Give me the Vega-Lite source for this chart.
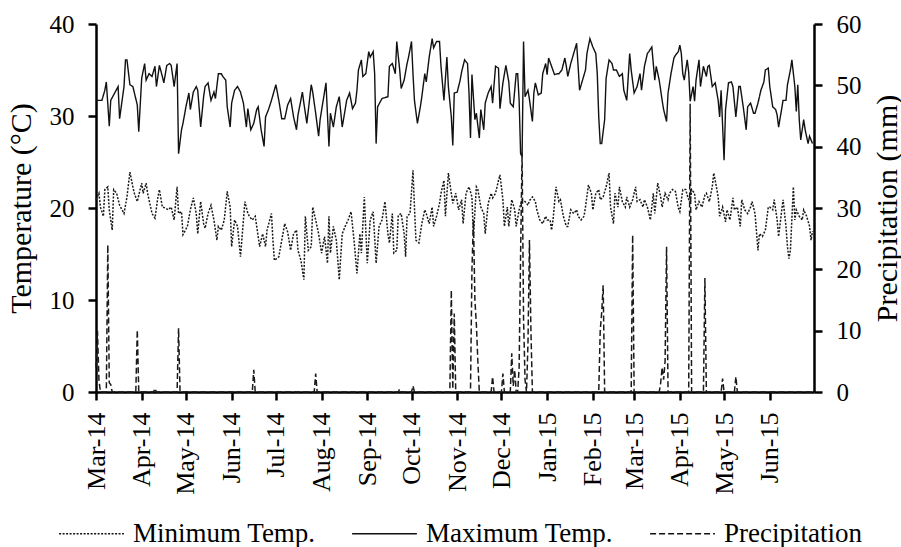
{
  "$schema": "https://vega.github.io/schema/vega-lite/v6.json",
  "autosize": "none",
  "width": 718,
  "height": 368,
  "padding": {"left": 96, "top": 24, "right": 87, "bottom": 155},
  "background": "white",
  "config": {
    "font": "Liberation Serif",
    "view": {"stroke": null},
    "axis": {
      "domainColor": "#000", "domainWidth": 2.5, "tickColor": "#000", "tickWidth": 2.5, "tickSize": 8,
      "labelFont": "Liberation Serif", "labelFontSize": 25, "labelColor": "#000",
      "titleFont": "Liberation Serif", "titleFontSize": 30, "titleFontWeight": "normal", "titleColor": "#000",
      "grid": false, "labelPadding": 14
    },
    "legend": {
      "labelFont": "Liberation Serif", "labelFontSize": 27, "labelColor": "#000", "labelLimit": 400
    }
  },
  "datasets": {
    "tmax": [
      {"d":"2014/03/01","v":31.7},{"d":"2014/03/05","v":31.7},{"d":"2014/03/07","v":32.8},{"d":"2014/03/08","v":33.7},{"d":"2014/03/10","v":28.9},{"d":"2014/03/11","v":31.7},{"d":"2014/03/14","v":32.6},{"d":"2014/03/16","v":33.2},{"d":"2014/03/17","v":29.7},{"d":"2014/03/20","v":33.2},{"d":"2014/03/21","v":36.1},{"d":"2014/03/22","v":36.1},{"d":"2014/03/24","v":33.4},{"d":"2014/03/26","v":33.2},{"d":"2014/03/29","v":31.2},{"d":"2014/03/30","v":28.3},
      {"d":"2014/04/01","v":34.1},{"d":"2014/04/03","v":35.7},{"d":"2014/04/04","v":33.9},{"d":"2014/04/06","v":34.6},{"d":"2014/04/08","v":34.3},{"d":"2014/04/10","v":35.4},{"d":"2014/04/11","v":33.2},{"d":"2014/04/13","v":35.5},{"d":"2014/04/15","v":34.3},{"d":"2014/04/16","v":33.6},{"d":"2014/04/18","v":35.5},{"d":"2014/04/20","v":35.7},{"d":"2014/04/21","v":35.5},{"d":"2014/04/23","v":33.2},{"d":"2014/04/25","v":35.7},{"d":"2014/04/26","v":25.9},{"d":"2014/04/28","v":28.5},{"d":"2014/04/29","v":29.2},
      {"d":"2014/05/01","v":31.0},{"d":"2014/05/03","v":32.5},{"d":"2014/05/04","v":30.7},{"d":"2014/05/06","v":32.6},{"d":"2014/05/08","v":33.2},{"d":"2014/05/09","v":32.8},{"d":"2014/05/11","v":28.8},{"d":"2014/05/13","v":32.1},{"d":"2014/05/14","v":33.2},{"d":"2014/05/16","v":33.6},{"d":"2014/05/18","v":31.7},{"d":"2014/05/20","v":32.6},{"d":"2014/05/21","v":31.9},{"d":"2014/05/23","v":34.6},{"d":"2014/05/25","v":34.6},{"d":"2014/05/26","v":34.3},{"d":"2014/05/28","v":33.9},{"d":"2014/05/29","v":31.0},{"d":"2014/05/31","v":28.8},
      {"d":"2014/06/01","v":31.4},{"d":"2014/06/03","v":32.8},{"d":"2014/06/05","v":33.2},{"d":"2014/06/07","v":32.6},{"d":"2014/06/09","v":31.4},{"d":"2014/06/11","v":28.8},{"d":"2014/06/12","v":30.8},{"d":"2014/06/14","v":28.5},{"d":"2014/06/16","v":29.2},{"d":"2014/06/18","v":30.7},{"d":"2014/06/19","v":31.0},{"d":"2014/06/21","v":28.5},{"d":"2014/06/23","v":26.7},{"d":"2014/06/24","v":29.9},{"d":"2014/06/26","v":30.7},{"d":"2014/06/28","v":31.7},
      {"d":"2014/07/01","v":33.4},{"d":"2014/07/03","v":31.7},{"d":"2014/07/05","v":29.7},{"d":"2014/07/07","v":29.7},{"d":"2014/07/09","v":31.2},{"d":"2014/07/11","v":31.9},{"d":"2014/07/13","v":29.9},{"d":"2014/07/15","v":28.5},{"d":"2014/07/16","v":30.1},{"d":"2014/07/19","v":32.6},{"d":"2014/07/20","v":31.4},{"d":"2014/07/22","v":29.2},{"d":"2014/07/25","v":33.4},{"d":"2014/07/26","v":32.6},{"d":"2014/07/28","v":30.3},{"d":"2014/07/30","v":27.8},{"d":"2014/07/31","v":29.6},
      {"d":"2014/08/02","v":31.6},{"d":"2014/08/04","v":33.6},{"d":"2014/08/06","v":26.7},{"d":"2014/08/07","v":30.3},{"d":"2014/08/09","v":28.8},{"d":"2014/08/11","v":31.0},{"d":"2014/08/13","v":32.1},{"d":"2014/08/15","v":28.8},{"d":"2014/08/17","v":30.7},{"d":"2014/08/18","v":31.7},{"d":"2014/08/20","v":32.5},{"d":"2014/08/22","v":30.8},{"d":"2014/08/24","v":31.4},{"d":"2014/08/25","v":32.8},{"d":"2014/08/26","v":35.0},{"d":"2014/08/28","v":36.1},{"d":"2014/08/29","v":34.3},{"d":"2014/08/31","v":34.6},
      {"d":"2014/09/02","v":37.0},{"d":"2014/09/03","v":36.4},{"d":"2014/09/05","v":37.0},{"d":"2014/09/06","v":34.6},{"d":"2014/09/07","v":27.0},{"d":"2014/09/08","v":31.0},{"d":"2014/09/11","v":31.9},{"d":"2014/09/13","v":32.0},{"d":"2014/09/15","v":32.1},{"d":"2014/09/16","v":35.4},{"d":"2014/09/18","v":35.7},{"d":"2014/09/20","v":34.6},{"d":"2014/09/21","v":38.1},{"d":"2014/09/23","v":35.0},{"d":"2014/09/24","v":33.0},{"d":"2014/09/26","v":33.9},{"d":"2014/09/28","v":35.7},{"d":"2014/09/29","v":36.4},
      {"d":"2014/10/01","v":38.1},{"d":"2014/10/02","v":34.6},{"d":"2014/10/03","v":31.7},{"d":"2014/10/05","v":29.2},{"d":"2014/10/07","v":31.0},{"d":"2014/10/08","v":32.1},{"d":"2014/10/10","v":34.6},{"d":"2014/10/11","v":33.7},{"d":"2014/10/13","v":36.4},{"d":"2014/10/15","v":38.4},{"d":"2014/10/16","v":37.4},{"d":"2014/10/18","v":38.1},{"d":"2014/10/20","v":38.1},{"d":"2014/10/21","v":35.4},{"d":"2014/10/23","v":31.7},{"d":"2014/10/25","v":36.4},{"d":"2014/10/26","v":33.2},{"d":"2014/10/28","v":29.9},{"d":"2014/10/29","v":26.8},{"d":"2014/10/30","v":32.5},
      {"d":"2014/11/01","v":32.6},{"d":"2014/11/03","v":33.9},{"d":"2014/11/04","v":34.8},{"d":"2014/11/06","v":36.1},{"d":"2014/11/08","v":35.7},{"d":"2014/11/09","v":32.5},{"d":"2014/11/10","v":27.6},{"d":"2014/11/11","v":34.5},{"d":"2014/11/13","v":29.6},{"d":"2014/11/14","v":30.3},{"d":"2014/11/16","v":27.6},{"d":"2014/11/17","v":30.7},{"d":"2014/11/19","v":28.5},{"d":"2014/11/20","v":31.4},{"d":"2014/11/22","v":32.5},{"d":"2014/11/24","v":33.2},{"d":"2014/11/25","v":31.4},{"d":"2014/11/27","v":35.4},{"d":"2014/11/29","v":35.2},{"d":"2014/11/30","v":30.8},
      {"d":"2014/12/02","v":33.6},{"d":"2014/12/04","v":35.5},{"d":"2014/12/06","v":33.7},{"d":"2014/12/07","v":31.4},{"d":"2014/12/09","v":31.0},{"d":"2014/12/11","v":34.6},{"d":"2014/12/12","v":34.6},{"d":"2014/12/13","v":31.7},{"d":"2014/12/14","v":25.9},{"d":"2014/12/15","v":25.6},{"d":"2014/12/16","v":38.1},{"d":"2014/12/17","v":32.1},{"d":"2014/12/19","v":32.8},{"d":"2014/12/20","v":31.8},{"d":"2014/12/22","v":29.4},{"d":"2014/12/23","v":32.5},{"d":"2014/12/24","v":33.6},{"d":"2014/12/26","v":32.3},{"d":"2014/12/28","v":32.5},{"d":"2014/12/29","v":34.6},{"d":"2014/12/31","v":35.7},
      {"d":"2015/01/01","v":34.5},{"d":"2015/01/02","v":36.3},{"d":"2015/01/04","v":35.4},{"d":"2015/01/06","v":34.5},{"d":"2015/01/08","v":34.6},{"d":"2015/01/09","v":34.6},{"d":"2015/01/11","v":35.0},{"d":"2015/01/13","v":36.3},{"d":"2015/01/14","v":35.4},{"d":"2015/01/15","v":34.3},{"d":"2015/01/17","v":35.7},{"d":"2015/01/19","v":36.8},{"d":"2015/01/21","v":37.9},{"d":"2015/01/22","v":35.4},{"d":"2015/01/23","v":32.8},{"d":"2015/01/25","v":33.9},{"d":"2015/01/27","v":35.0},{"d":"2015/01/28","v":36.8},{"d":"2015/01/30","v":38.4},
      {"d":"2015/02/01","v":37.5},{"d":"2015/02/03","v":36.8},{"d":"2015/02/04","v":34.6},{"d":"2015/02/05","v":29.9},{"d":"2015/02/06","v":27.0},{"d":"2015/02/07","v":27.0},{"d":"2015/02/09","v":29.6},{"d":"2015/02/10","v":34.1},{"d":"2015/02/12","v":36.1},{"d":"2015/02/14","v":35.7},{"d":"2015/02/15","v":35.0},{"d":"2015/02/17","v":35.0},{"d":"2015/02/19","v":34.3},{"d":"2015/02/21","v":34.6},{"d":"2015/02/22","v":32.8},{"d":"2015/02/24","v":31.7},{"d":"2015/02/26","v":36.8},{"d":"2015/02/27","v":35.0},
      {"d":"2015/03/01","v":32.5},{"d":"2015/03/03","v":33.2},{"d":"2015/03/05","v":34.6},{"d":"2015/03/06","v":32.8},{"d":"2015/03/08","v":35.4},{"d":"2015/03/10","v":36.8},{"d":"2015/03/11","v":37.0},{"d":"2015/03/13","v":37.5},{"d":"2015/03/15","v":33.9},{"d":"2015/03/16","v":35.4},{"d":"2015/03/18","v":33.9},{"d":"2015/03/20","v":31.7},{"d":"2015/03/21","v":30.7},{"d":"2015/03/23","v":29.4},{"d":"2015/03/24","v":32.5},{"d":"2015/03/26","v":34.6},{"d":"2015/03/28","v":36.3},{"d":"2015/03/29","v":36.6},{"d":"2015/03/31","v":37.0},
      {"d":"2015/04/01","v":37.7},{"d":"2015/04/02","v":36.8},{"d":"2015/04/03","v":34.6},{"d":"2015/04/04","v":33.9},{"d":"2015/04/06","v":36.1},{"d":"2015/04/07","v":34.8},{"d":"2015/04/08","v":31.6},{"d":"2015/04/10","v":33.2},{"d":"2015/04/11","v":31.6},{"d":"2015/04/12","v":33.9},{"d":"2015/04/14","v":36.1},{"d":"2015/04/15","v":33.2},{"d":"2015/04/17","v":35.4},{"d":"2015/04/19","v":34.3},{"d":"2015/04/20","v":35.4},{"d":"2015/04/21","v":35.5},{"d":"2015/04/23","v":33.2},{"d":"2015/04/25","v":33.6},{"d":"2015/04/27","v":31.7},{"d":"2015/04/28","v":29.9},{"d":"2015/04/29","v":32.8},
      {"d":"2015/05/01","v":25.2},{"d":"2015/05/02","v":30.7},{"d":"2015/05/04","v":33.6},{"d":"2015/05/06","v":33.7},{"d":"2015/05/07","v":33.2},{"d":"2015/05/09","v":29.9},{"d":"2015/05/11","v":33.2},{"d":"2015/05/12","v":33.2},{"d":"2015/05/14","v":31.0},{"d":"2015/05/16","v":28.5},{"d":"2015/05/17","v":31.0},{"d":"2015/05/19","v":31.4},{"d":"2015/05/21","v":30.3},{"d":"2015/05/22","v":30.3},{"d":"2015/05/24","v":31.4},{"d":"2015/05/26","v":32.8},{"d":"2015/05/28","v":33.7},{"d":"2015/05/29","v":35.0},{"d":"2015/05/31","v":35.2},
      {"d":"2015/06/01","v":33.2},{"d":"2015/06/03","v":31.0},{"d":"2015/06/05","v":30.7},{"d":"2015/06/06","v":30.1},{"d":"2015/06/07","v":28.8},{"d":"2015/06/09","v":30.7},{"d":"2015/06/10","v":31.7},{"d":"2015/06/12","v":31.7},{"d":"2015/06/13","v":33.4},{"d":"2015/06/15","v":35.0},{"d":"2015/06/16","v":36.1},{"d":"2015/06/18","v":33.2},{"d":"2015/06/19","v":30.5},{"d":"2015/06/20","v":33.4},{"d":"2015/06/21","v":29.6},{"d":"2015/06/22","v":27.4},{"d":"2015/06/24","v":29.6},{"d":"2015/06/25","v":28.5},{"d":"2015/06/27","v":27.0},{"d":"2015/06/28","v":27.8},{"d":"2015/06/29","v":27.4},{"d":"2015/06/30","v":27.0}
    ],
    "tmin": [
      {"d":"2014/03/01","v":20.9},{"d":"2014/03/03","v":21.6},{"d":"2014/03/04","v":20.1},{"d":"2014/03/06","v":19.1},{"d":"2014/03/07","v":22.0},{"d":"2014/03/09","v":22.3},{"d":"2014/03/10","v":19.8},{"d":"2014/03/12","v":17.6},{"d":"2014/03/13","v":22.0},{"d":"2014/03/15","v":21.6},{"d":"2014/03/17","v":20.3},{"d":"2014/03/20","v":19.4},{"d":"2014/03/22","v":21.2},{"d":"2014/03/24","v":23.9},{"d":"2014/03/26","v":22.3},{"d":"2014/03/27","v":21.6},{"d":"2014/03/29","v":20.7},
      {"d":"2014/04/01","v":22.7},{"d":"2014/04/02","v":21.6},{"d":"2014/04/04","v":22.7},{"d":"2014/04/05","v":21.6},{"d":"2014/04/08","v":19.4},{"d":"2014/04/10","v":18.9},{"d":"2014/04/12","v":21.2},{"d":"2014/04/13","v":22.0},{"d":"2014/04/15","v":20.1},{"d":"2014/04/17","v":20.0},{"d":"2014/04/19","v":19.8},{"d":"2014/04/21","v":20.1},{"d":"2014/04/23","v":18.7},{"d":"2014/04/25","v":22.3},{"d":"2014/04/26","v":19.4},{"d":"2014/04/28","v":19.6},{"d":"2014/04/29","v":17.1},
      {"d":"2014/05/02","v":18.0},{"d":"2014/05/04","v":19.8},{"d":"2014/05/06","v":21.1},{"d":"2014/05/08","v":19.4},{"d":"2014/05/09","v":17.2},{"d":"2014/05/11","v":20.7},{"d":"2014/05/13","v":18.3},{"d":"2014/05/14","v":17.8},{"d":"2014/05/16","v":19.4},{"d":"2014/05/18","v":20.3},{"d":"2014/05/20","v":18.7},{"d":"2014/05/22","v":16.5},{"d":"2014/05/23","v":18.0},{"d":"2014/05/25","v":17.6},{"d":"2014/05/27","v":18.7},{"d":"2014/05/29","v":21.8},{"d":"2014/05/31","v":20.1},
      {"d":"2014/06/01","v":15.8},{"d":"2014/06/03","v":18.7},{"d":"2014/06/05","v":18.0},{"d":"2014/06/07","v":14.7},{"d":"2014/06/09","v":18.7},{"d":"2014/06/10","v":20.7},{"d":"2014/06/12","v":19.4},{"d":"2014/06/13","v":19.1},{"d":"2014/06/15","v":18.7},{"d":"2014/06/17","v":19.1},{"d":"2014/06/18","v":18.0},{"d":"2014/06/20","v":15.8},{"d":"2014/06/22","v":17.2},{"d":"2014/06/24","v":15.8},{"d":"2014/06/25","v":17.6},{"d":"2014/06/28","v":19.4},{"d":"2014/06/29","v":16.5},{"d":"2014/06/30","v":14.3},
      {"d":"2014/07/03","v":14.7},{"d":"2014/07/05","v":16.5},{"d":"2014/07/07","v":18.3},{"d":"2014/07/09","v":17.4},{"d":"2014/07/11","v":15.4},{"d":"2014/07/13","v":17.2},{"d":"2014/07/15","v":17.6},{"d":"2014/07/16","v":15.4},{"d":"2014/07/18","v":14.3},{"d":"2014/07/20","v":12.2},{"d":"2014/07/21","v":19.1},{"d":"2014/07/23","v":15.4},{"d":"2014/07/25","v":15.8},{"d":"2014/07/26","v":20.1},{"d":"2014/07/28","v":18.7},{"d":"2014/07/30","v":17.2},
      {"d":"2014/08/01","v":15.1},{"d":"2014/08/03","v":16.9},{"d":"2014/08/05","v":14.0},{"d":"2014/08/06","v":19.1},{"d":"2014/08/07","v":15.1},{"d":"2014/08/09","v":18.0},{"d":"2014/08/11","v":16.5},{"d":"2014/08/13","v":12.2},{"d":"2014/08/15","v":17.2},{"d":"2014/08/17","v":18.0},{"d":"2014/08/19","v":18.7},{"d":"2014/08/21","v":19.6},{"d":"2014/08/23","v":16.5},{"d":"2014/08/25","v":12.9},{"d":"2014/08/27","v":17.2},{"d":"2014/08/28","v":15.1},{"d":"2014/08/30","v":21.2},
      {"d":"2014/09/01","v":14.0},{"d":"2014/09/03","v":18.7},{"d":"2014/09/05","v":19.6},{"d":"2014/09/07","v":14.0},{"d":"2014/09/09","v":18.0},{"d":"2014/09/11","v":18.7},{"d":"2014/09/13","v":20.7},{"d":"2014/09/15","v":17.2},{"d":"2014/09/16","v":16.2},{"d":"2014/09/18","v":19.4},{"d":"2014/09/19","v":15.1},{"d":"2014/09/21","v":15.4},{"d":"2014/09/22","v":19.2},{"d":"2014/09/24","v":19.4},{"d":"2014/09/26","v":17.2},{"d":"2014/09/27","v":14.7},{"d":"2014/09/28","v":19.1},{"d":"2014/09/30","v":19.4},
      {"d":"2014/10/02","v":24.1},{"d":"2014/10/03","v":20.1},{"d":"2014/10/04","v":16.5},{"d":"2014/10/06","v":16.2},{"d":"2014/10/08","v":18.3},{"d":"2014/10/10","v":19.8},{"d":"2014/10/11","v":19.4},{"d":"2014/10/13","v":18.3},{"d":"2014/10/15","v":20.1},{"d":"2014/10/16","v":18.0},{"d":"2014/10/18","v":19.1},{"d":"2014/10/20","v":20.5},{"d":"2014/10/21","v":21.6},{"d":"2014/10/23","v":23.0},{"d":"2014/10/24","v":19.1},{"d":"2014/10/26","v":23.8},{"d":"2014/10/28","v":21.6},{"d":"2014/10/29","v":20.5},{"d":"2014/10/31","v":21.6},
      {"d":"2014/11/02","v":19.8},{"d":"2014/11/04","v":20.9},{"d":"2014/11/05","v":18.3},{"d":"2014/11/07","v":21.6},{"d":"2014/11/09","v":22.3},{"d":"2014/11/11","v":21.2},{"d":"2014/11/12","v":16.9},{"d":"2014/11/14","v":22.3},{"d":"2014/11/15","v":22.0},{"d":"2014/11/17","v":20.1},{"d":"2014/11/19","v":19.4},{"d":"2014/11/20","v":17.2},{"d":"2014/11/22","v":20.5},{"d":"2014/11/24","v":21.6},{"d":"2014/11/25","v":21.1},{"d":"2014/11/27","v":21.6},{"d":"2014/11/29","v":23.0},{"d":"2014/11/30","v":23.6},
      {"d":"2014/12/02","v":20.9},{"d":"2014/12/03","v":18.0},{"d":"2014/12/05","v":20.1},{"d":"2014/12/06","v":18.0},{"d":"2014/12/08","v":20.9},{"d":"2014/12/10","v":19.8},{"d":"2014/12/11","v":18.0},{"d":"2014/12/13","v":19.8},{"d":"2014/12/15","v":20.9},{"d":"2014/12/17","v":20.7},{"d":"2014/12/19","v":20.3},{"d":"2014/12/20","v":20.8},{"d":"2014/12/22","v":21.2},{"d":"2014/12/24","v":20.7},{"d":"2014/12/25","v":19.8},{"d":"2014/12/27","v":18.7},{"d":"2014/12/29","v":18.3},{"d":"2014/12/31","v":19.1},
      {"d":"2015/01/01","v":18.7},{"d":"2015/01/03","v":18.7},{"d":"2015/01/04","v":17.6},{"d":"2015/01/05","v":18.7},{"d":"2015/01/07","v":22.3},{"d":"2015/01/09","v":20.7},{"d":"2015/01/10","v":20.9},{"d":"2015/01/12","v":19.1},{"d":"2015/01/14","v":18.0},{"d":"2015/01/15","v":18.0},{"d":"2015/01/17","v":19.8},{"d":"2015/01/19","v":19.4},{"d":"2015/01/21","v":19.8},{"d":"2015/01/22","v":19.1},{"d":"2015/01/24","v":18.7},{"d":"2015/01/26","v":19.1},{"d":"2015/01/27","v":20.1},{"d":"2015/01/29","v":22.5},{"d":"2015/01/31","v":21.6},
      {"d":"2015/02/01","v":19.8},{"d":"2015/02/03","v":21.6},{"d":"2015/02/05","v":22.0},{"d":"2015/02/06","v":20.9},{"d":"2015/02/08","v":21.2},{"d":"2015/02/10","v":22.3},{"d":"2015/02/12","v":23.8},{"d":"2015/02/13","v":20.1},{"d":"2015/02/15","v":18.3},{"d":"2015/02/16","v":21.6},{"d":"2015/02/18","v":20.1},{"d":"2015/02/19","v":22.3},{"d":"2015/02/21","v":20.7},{"d":"2015/02/23","v":20.1},{"d":"2015/02/24","v":21.2},{"d":"2015/02/26","v":20.1},{"d":"2015/02/28","v":20.9},
      {"d":"2015/03/02","v":22.3},{"d":"2015/03/03","v":20.7},{"d":"2015/03/05","v":20.9},{"d":"2015/03/07","v":20.1},{"d":"2015/03/08","v":20.9},{"d":"2015/03/10","v":20.1},{"d":"2015/03/12","v":18.7},{"d":"2015/03/14","v":21.6},{"d":"2015/03/15","v":19.4},{"d":"2015/03/17","v":22.7},{"d":"2015/03/19","v":21.2},{"d":"2015/03/20","v":20.1},{"d":"2015/03/22","v":21.6},{"d":"2015/03/24","v":20.9},{"d":"2015/03/25","v":21.6},{"d":"2015/03/27","v":22.0},{"d":"2015/03/29","v":21.8},{"d":"2015/03/31","v":20.0},
      {"d":"2015/04/01","v":19.6},{"d":"2015/04/03","v":22.0},{"d":"2015/04/05","v":22.0},{"d":"2015/04/06","v":21.4},{"d":"2015/04/08","v":20.5},{"d":"2015/04/09","v":22.0},{"d":"2015/04/11","v":21.6},{"d":"2015/04/12","v":19.8},{"d":"2015/04/14","v":20.7},{"d":"2015/04/16","v":20.1},{"d":"2015/04/18","v":21.4},{"d":"2015/04/19","v":21.6},{"d":"2015/04/21","v":20.7},{"d":"2015/04/23","v":22.3},{"d":"2015/04/24","v":23.8},{"d":"2015/04/25","v":23.0},{"d":"2015/04/27","v":21.2},{"d":"2015/04/28","v":19.1},{"d":"2015/04/30","v":20.1},
      {"d":"2015/05/02","v":18.5},{"d":"2015/05/03","v":19.8},{"d":"2015/05/05","v":18.7},{"d":"2015/05/07","v":21.1},{"d":"2015/05/08","v":19.8},{"d":"2015/05/10","v":20.1},{"d":"2015/05/12","v":18.0},{"d":"2015/05/13","v":20.9},{"d":"2015/05/15","v":19.8},{"d":"2015/05/17","v":19.4},{"d":"2015/05/19","v":20.1},{"d":"2015/05/20","v":20.7},{"d":"2015/05/22","v":19.4},{"d":"2015/05/24","v":15.4},{"d":"2015/05/25","v":17.2},{"d":"2015/05/27","v":16.9},{"d":"2015/05/29","v":17.6},{"d":"2015/05/31","v":20.1},
      {"d":"2015/06/01","v":20.1},{"d":"2015/06/03","v":19.8},{"d":"2015/06/04","v":20.9},{"d":"2015/06/06","v":18.7},{"d":"2015/06/07","v":16.9},{"d":"2015/06/09","v":19.6},{"d":"2015/06/10","v":20.9},{"d":"2015/06/12","v":18.0},{"d":"2015/06/13","v":15.8},{"d":"2015/06/14","v":14.5},{"d":"2015/06/15","v":15.4},{"d":"2015/06/17","v":22.3},{"d":"2015/06/18","v":18.7},{"d":"2015/06/19","v":19.8},{"d":"2015/06/21","v":19.1},{"d":"2015/06/23","v":18.7},{"d":"2015/06/24","v":19.8},{"d":"2015/06/26","v":19.1},{"d":"2015/06/28","v":18.0},{"d":"2015/06/29","v":16.5},{"d":"2015/06/30","v":17.5}
    ],
    "rain": [
      {"d":"2014/03/01","v":4},{"d":"2014/03/02","v":10},{"d":"2014/03/03","v":2},{"d":"2014/03/04","v":0},{"d":"2014/03/08","v":0},{"d":"2014/03/09","v":24},{"d":"2014/03/10","v":1.5},{"d":"2014/03/11","v":1.2},{"d":"2014/03/12","v":0},
      {"d":"2014/03/28","v":0},{"d":"2014/03/29","v":10.1},{"d":"2014/03/30","v":0},{"d":"2014/04/09","v":0},{"d":"2014/04/10","v":0.6},{"d":"2014/04/11","v":0},{"d":"2014/04/25","v":0},{"d":"2014/04/26","v":10.4},{"d":"2014/04/27","v":0},
      {"d":"2014/06/15","v":0},{"d":"2014/06/16","v":3.6},{"d":"2014/06/17","v":0},{"d":"2014/07/27","v":0},{"d":"2014/07/28","v":3.0},{"d":"2014/07/29","v":0},
      {"d":"2014/09/22","v":0},{"d":"2014/09/23","v":0.5},{"d":"2014/09/24","v":0},{"d":"2014/10/01","v":0},{"d":"2014/10/02","v":1.0},{"d":"2014/10/03","v":0},
      {"d":"2014/10/27","v":0},{"d":"2014/10/28","v":16.6},{"d":"2014/10/29","v":0.5},{"d":"2014/10/30","v":12.8},{"d":"2014/10/31","v":0},
      {"d":"2014/11/10","v":0},{"d":"2014/11/11","v":20},{"d":"2014/11/12","v":28},{"d":"2014/11/13","v":15},{"d":"2014/11/14","v":11},{"d":"2014/11/15","v":5},{"d":"2014/11/16","v":0},
      {"d":"2014/11/24","v":0},{"d":"2014/11/25","v":2.5},{"d":"2014/11/26","v":0},{"d":"2014/12/01","v":0},{"d":"2014/12/02","v":3},{"d":"2014/12/03","v":0},
      {"d":"2014/12/07","v":0},{"d":"2014/12/08","v":6.3},{"d":"2014/12/09","v":1},{"d":"2014/12/10","v":3.6},{"d":"2014/12/11","v":0},{"d":"2014/12/12","v":0},{"d":"2014/12/13","v":4},{"d":"2014/12/14","v":22.6},{"d":"2014/12/15","v":39},{"d":"2014/12/16","v":12},{"d":"2014/12/17","v":2},{"d":"2014/12/18","v":0},{"d":"2014/12/19","v":8},{"d":"2014/12/20","v":24.8},{"d":"2014/12/21","v":10},{"d":"2014/12/22","v":0},
      {"d":"2015/02/05","v":0},{"d":"2015/02/06","v":10},{"d":"2015/02/07","v":13},{"d":"2015/02/08","v":17.4},{"d":"2015/02/09","v":0},
      {"d":"2015/02/27","v":0},{"d":"2015/02/28","v":25.6},{"d":"2015/03/01","v":0},
      {"d":"2015/03/18","v":0},{"d":"2015/03/19","v":1.5},{"d":"2015/03/20","v":4},{"d":"2015/03/21","v":2},{"d":"2015/03/22","v":5},{"d":"2015/03/23","v":23.7},{"d":"2015/03/24","v":0},
      {"d":"2015/04/07","v":0},{"d":"2015/04/08","v":47},{"d":"2015/04/09","v":0},{"d":"2015/04/17","v":0},{"d":"2015/04/18","v":18.6},{"d":"2015/04/19","v":0},
      {"d":"2015/04/29","v":0},{"d":"2015/04/30","v":2.2},{"d":"2015/05/01","v":0},{"d":"2015/05/08","v":0},{"d":"2015/05/09","v":2.5},{"d":"2015/05/10","v":0},{"d":"2015/06/30","v":0}
    ]
  },
  "encoding": {
    "x": {
      "field": "d", "type": "temporal",
      "scale": {"domain": [{"year": 2014, "month": 3, "date": 1}, {"year": 2015, "month": 7, "date": 1}]},
      "axis": {"title": null, "format": "%b-%y",
        "values": [
          {"year": 2014, "month": 3, "date": 1}, {"year": 2014, "month": 4, "date": 1}, {"year": 2014, "month": 5, "date": 1}, {"year": 2014, "month": 6, "date": 1},
          {"year": 2014, "month": 7, "date": 1}, {"year": 2014, "month": 8, "date": 1}, {"year": 2014, "month": 9, "date": 1}, {"year": 2014, "month": 10, "date": 1},
          {"year": 2014, "month": 11, "date": 1}, {"year": 2014, "month": 12, "date": 1}, {"year": 2015, "month": 1, "date": 1}, {"year": 2015, "month": 2, "date": 1},
          {"year": 2015, "month": 3, "date": 1}, {"year": 2015, "month": 4, "date": 1}, {"year": 2015, "month": 5, "date": 1}, {"year": 2015, "month": 6, "date": 1}
        ],
        "labelAngle": 270, "labelFontSize": 26, "labelPadding": 12, "labelOverlap": false, "labelFlush": false}
    }
  },
  "layer": [
    {
      "encoding": {
        "y": {"field": "v", "type": "quantitative", "scale": {"domain": [0, 40]},
              "axis": {"title": "Temperature (°C)", "values": [0, 10, 20, 30, 40], "orient": "left", "titlePadding": 13}}
      },
      "layer": [
        {
          "data": {"name": "tmin"},
          "mark": {"type": "line", "color": "#1a1a1a", "strokeWidth": 1.5},
          "encoding": {
            "strokeDash": {"datum": "Minimum Temp.", "scale": {"domain": ["Minimum Temp.", "Maximum Temp.", "Precipitation"], "range": [[2, 1.5], [1, 0], [6, 3]]},
              "legend": {"title": null, "orient": "none", "direction": "horizontal", "legendX": -38, "legendY": 476, "symbolType": "stroke", "symbolSize": 4200, "symbolStrokeColor": "#000", "symbolStrokeWidth": 1.3, "labelOffset": 8, "columnPadding": 33, "padding": 0, "labelLimit": 400}}
          }
        },
        {
          "data": {"name": "tmax"},
          "mark": {"type": "line", "color": "#111", "strokeWidth": 1.4},
          "encoding": {"strokeDash": {"datum": "Maximum Temp."}}
        }
      ]
    },
    {
      "data": {"name": "rain"},
      "mark": {"type": "line", "color": "#1a1a1a", "strokeWidth": 1.5},
      "encoding": {
        "y": {"field": "v", "type": "quantitative", "scale": {"domain": [0, 60]},
              "axis": {"title": "Precipitation (mm)", "values": [0, 10, 20, 30, 40, 50, 60], "orient": "right",
                       "titleAngle": 270, "titleBaseline": "middle", "titleAlign": "center", "titleX": 73, "titleY": 184}},
        "strokeDash": {"datum": "Precipitation"}
      }
    }
  ],
  "resolve": {"scale": {"y": "independent"}}
}
